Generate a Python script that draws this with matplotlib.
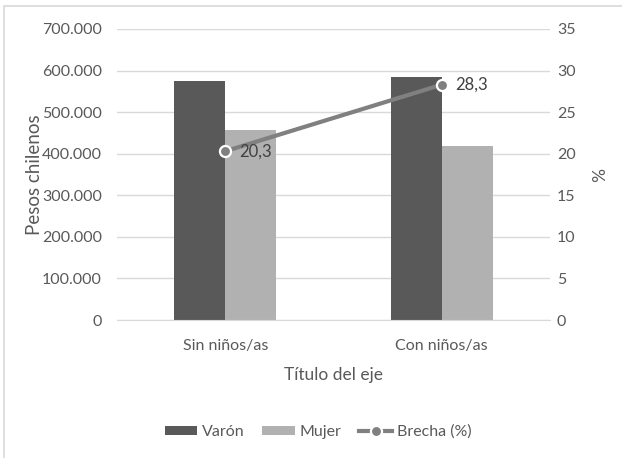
import matplotlib.pyplot as plt
from matplotlib.patches import Rectangle
import numpy as np

categories = ["Sin niños/as", "Con niños/as"]
varon = [575000, 584000]
mujer = [457000, 418000]
brecha = [20.3, 28.3]
brecha_labels = ["20,3", "28,3"]

left_ticks = [0, 100000, 200000, 300000, 400000, 500000, 600000, 700000]
right_ticks = [0, 5, 10, 15, 20, 25, 30, 35]

plt.rcParams['font.family'] = ['Lato', 'DejaVu Sans']
TXT = "#595959"
GRID = "#d9d9d9"

W, H = 622, 458
fig = plt.figure(figsize=(W / 100, H / 100), dpi=100)

# plot area in pixels: left 117, right 550, top 29, bottom 320
ax = fig.add_axes([117 / W, 1 - 320 / H, (550 - 117) / W, (320 - 29) / H])
ax2 = ax.twinx()

x = np.arange(len(categories))
bw = 0.236
ax.bar(x - bw / 2, varon, bw, color="#595959", label="Varón", zorder=2)
ax.bar(x + bw / 2, mujer, bw, color="#b1b1b1", label="Mujer", zorder=2)
ax.set_xlim(-0.5, 1.5)
ax.set_ylim(0, 700000)
ax.set_yticks(left_ticks)
ax.set_yticklabels(["0" if v == 0 else "{:,}".format(v).replace(",", ".") for v in left_ticks])
ax.set_xticks(x)
ax.set_xticklabels(categories)
ax.grid(axis="y", color=GRID, linewidth=1, zorder=0)
ax.set_axisbelow(True)
ax.tick_params(axis="both", length=0, colors=TXT, labelsize=11.5)
ax.tick_params(axis="x", pad=14)
ax.tick_params(axis="y", pad=11)
for s in ax.spines.values():
    s.set_visible(False)
ax.spines["bottom"].set_visible(True)
ax.spines["bottom"].set_color(GRID)
ax.set_ylabel("Pesos chilenos", color=TXT, fontsize=13.5, labelpad=-1)
ax.set_xlabel("Título del eje", color=TXT, fontsize=12.5, labelpad=10)

ax2.plot(x, brecha, color="#808080", linewidth=3, marker="o", markersize=8,
         markerfacecolor="#808080", markeredgecolor="white", markeredgewidth=1.6,
         label="Brecha (%)", zorder=3)
for xi, yi, t in zip(x, brecha, brecha_labels):
    ax2.annotate(t, (xi, yi), xytext=(10, 0), textcoords="offset points",
                 va="center", ha="left", color="#404040", fontsize=12)
ax2.set_ylim(0, 35)
ax2.set_yticks(right_ticks)
ax2.tick_params(axis="y", length=0, colors=TXT, labelsize=11.5, pad=5)
for s in ax2.spines.values():
    s.set_visible(False)
ax2.set_ylabel("%", color=TXT, fontsize=12.5, labelpad=8, rotation=270, va="bottom")

h1, l1 = ax.get_legend_handles_labels()
h2, l2 = ax2.get_legend_handles_labels()
fig.legend(h1 + h2, l1 + l2, loc="center", bbox_to_anchor=(318 / W, 1 - 432 / H),
           ncol=3, frameon=False, fontsize=11.5, labelcolor=TXT,
           handlelength=2.05, handleheight=0.5, handletextpad=0.3, columnspacing=1.1)

fig.patches.append(Rectangle((4 / W, -0.1), 1.2, 1 - 6 / H + 0.1, transform=fig.transFigure,
                             fill=False, edgecolor="#d9d9d9", linewidth=1.2))

fig.savefig("out.png", dpi=100)
